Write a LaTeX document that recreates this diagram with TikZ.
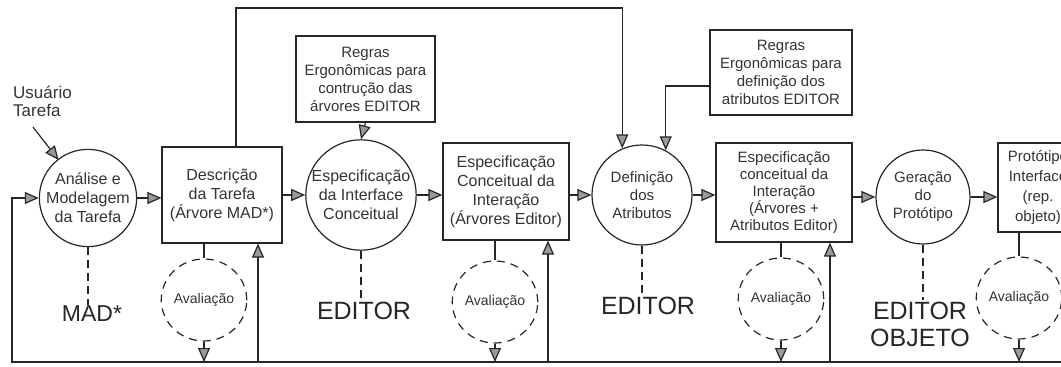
\documentclass[tikz,border=0pt]{standalone}
\usepackage{fontspec}
\setmainfont{Liberation Sans}
\usetikzlibrary{arrows.meta,calc,shapes.geometric}
\begin{document}
\begin{tikzpicture}[x=1pt,y=-1pt,
  every node/.style={text=black!80},
  ln/.style={line width=1.2pt, draw=black!85},
  arr/.style={ln, -{Triangle[length=14pt,width=12pt,fill=black!40]}},
  proc/.style={circle, ln, align=center, inner sep=0pt, font=\fontsize{16}{19}\selectfont},
  smallproc/.style={proc, font=\fontsize{15}{18}\selectfont},
  card/.style={rectangle, ln, align=center, inner sep=2pt, font=\fontsize{16}{19}\selectfont},
  rulebox/.style={card, font=\fontsize{15}{18}\selectfont},
  evalc/.style={ellipse, ln, dash pattern=on 8pt off 6pt, inner sep=0pt,
    minimum width=82pt, minimum height=82pt, font=\fontsize{14}{16}\selectfont},
  tool/.style={font=\fontsize{25}{27}\selectfont, align=center, text=black!85, inner sep=1pt},
  link/.style={ln, dash pattern=on 8pt off 5pt}
]
\useasboundingbox (0,0) rectangle (1061,367);
\clip (0,0) rectangle (1061,367);

% actor input
\node[anchor=north west, align=left, inner sep=0pt, font=\fontsize{17}{18}\selectfont]
  (usr) at (13,86) {Usuário\\Tarefa};
\coordinate (usrtail) at (33,127);

% process chain
\node[proc, minimum size=96pt] (c1) at (88,198) {Análise e\\Modelagem\\da Tarefa};
\node[card, minimum width=120pt, minimum height=96pt] (b2) at (222,195)
  {Descrição\\da Tarefa\\(Árvore MAD*)};
\node[rulebox, minimum width=139pt, minimum height=86pt] (r1) at (365.5,79)
  {Regras\\Ergonômicas para\\contrução das\\árvores EDITOR};
\node[proc, minimum size=110pt] (c3) at (361,195) {Especificação\\da Interface\\Conceitual};
\node[card, minimum width=126pt, minimum height=97pt] (b4) at (506,191.5)
  {Especificação\\Conceitual da\\Interação\\(Árvores Editor)};
\node[smallproc, minimum size=100pt] (c5) at (642,195) {Definição\\dos\\Atributos};
\node[rulebox, minimum width=142pt, minimum height=85pt] (r2) at (781,72.5)
  {Regras\\Ergonômicas para\\definição dos\\atributos EDITOR};
\node[card, minimum width=136pt, minimum height=99pt, font=\fontsize{15}{17}\selectfont] (b6) at (784,192.5)
  {Especificação\\conceitual da\\Interação\\(Árvores +\\Atributos Editor)};
\node[smallproc, minimum size=94pt] (c7) at (923,197) {Geração\\do\\Protótipo};
\node[card, minimum width=80pt, minimum height=89pt, font=\fontsize{15}{20}\selectfont] (b8) at (1038,187.5)
  {Protótipo\\Interface\\(rep.\\objeto)};

% evaluations
\node[evalc, minimum width=72pt] (a1) at (204,300) {Avaliação};
\node[evalc] (a2) at (495,302) {Avaliação};
\node[evalc] (a3) at (781,299) {Avaliação};
\node[evalc, minimum width=78pt] (a4) at (1019,298) {Avaliação};

% tools
\node[tool, font=\fontsize{23}{25}\selectfont] (t1) at (92,314) {MAD*};
\node[tool] (t3) at (364,311) {EDITOR};
\node[tool] (t5) at (648,306) {EDITOR};
\node[tool] (t7) at (920,324) {EDITOR\\OBJETO};

% main flow
\draw[arr] (usrtail) -- ($(c1.center)!48pt!(usrtail)$);
\draw[arr] (c1) -- (c1 -| b2.west);
\draw[arr] (b2.east |- c3) -- (c3);
\draw[arr] (c3.east) -- (c3 -| b4.west);
\draw[arr] (b4.east |- c5) -- (c5);
\draw[arr] (c5.east) -- (c5 -| b6.west);
\draw[arr] (b6.east |- c7) -- (c7);
\draw[arr] (c7.east) -- (c7 -| b8.west);

% rules and task description feeding the next steps
\draw[arr] (r1.south) -- (c3.north);
\coordinate (top) at (236,8);
\draw[arr] (top |- b2.north) -- (top) -| (c5.113.6);
\coordinate (r2y) at (0,86);
\draw[arr] (r2.west |- r2y) -| (c5.62.6);

% tool links
\draw[link] (c1.south) -- (t1.north -| c1.south);
\draw[link] (c3.south) -- (t3.north -| c3.south);
\draw[link] (c5.south) -- (t5.north -| c5.south);
\draw[link] (c7.south) -- (t7.north -| c7.south);

% evaluation loop
\coordinate (bl) at (12,362);
\coordinate (br) at (1061,362);
\draw[arr] (br) -- (bl) |- (c1.west);

\draw[ln] (b2.south -| a1) -- (a1.north);
\draw[arr] (a1.south) -- (a1 |- bl);
\draw[ln] (b4.south -| a2) -- (a2.north);
\draw[arr] (a2.south) -- (a2 |- bl);
\draw[ln] (b6.south -| a3) -- (a3.north);
\draw[arr] (a3.south) -- (a3 |- bl);
\draw[ln] (b8.south -| a4) -- (a4.north);
\draw[arr] (a4.south) -- (a4 |- bl);

\coordinate (f2) at (258,362);
\coordinate (f4) at (548,362);
\coordinate (f6) at (830,362);
\draw[arr] (f2) -- (f2 |- b2.south);
\draw[arr] (f4) -- (f4 |- b4.south);
\draw[arr] (f6) -- (f6 |- b6.south);
\end{tikzpicture}
\end{document}
